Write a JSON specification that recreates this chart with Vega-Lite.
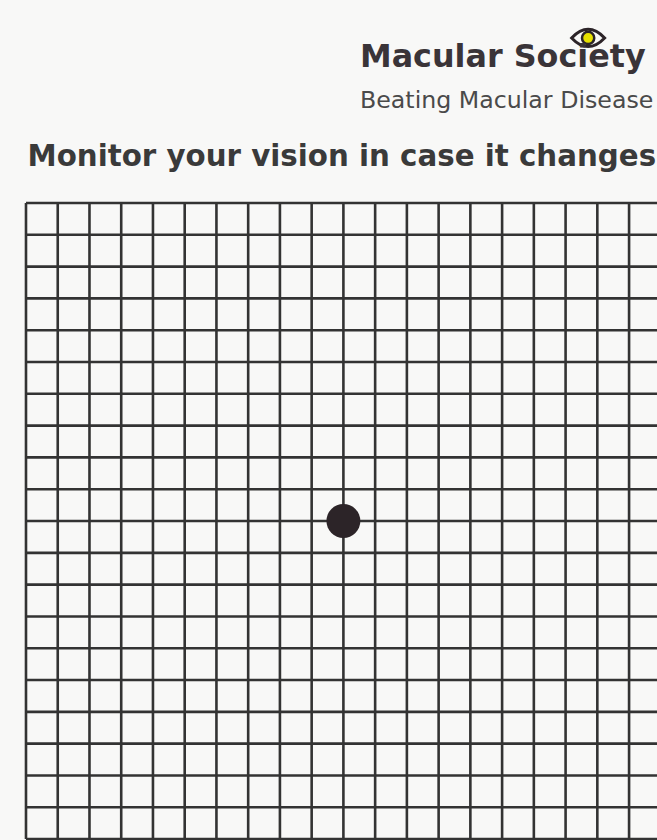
{
  "$schema": "https://vega.github.io/schema/vega-lite/v6.json",
  "width": 657,
  "height": 650,
  "autosize": {"type": "none"},
  "padding": {"top": 190, "left": 0, "right": 0, "bottom": 0},
  "background": "#f8f8f7",
  "title": {
    "text": "Macular Society",
    "subtitle": "Beating Macular Disease",
    "anchor": "start",
    "frame": "group",
    "orient": "top",
    "dx": 360,
    "offset": -89,
    "font": "DejaVu Sans",
    "fontSize": 31.8,
    "fontWeight": "bold",
    "color": "#3a3438",
    "subtitleFont": "DejaVu Sans",
    "subtitleFontSize": 23.7,
    "subtitleFontWeight": 400,
    "subtitleColor": "#4a4a4a",
    "subtitlePadding": 15
  },
  "config": {"view": {"stroke": null}},
  "datasets": {
    "grid": [
      {"k": 0}, {"k": 1}, {"k": 2}, {"k": 3}, {"k": 4}, {"k": 5}, {"k": 6},
      {"k": 7}, {"k": 8}, {"k": 9}, {"k": 10}, {"k": 11}, {"k": 12}, {"k": 13},
      {"k": 14}, {"k": 15}, {"k": 16}, {"k": 17}, {"k": 18}, {"k": 19}, {"k": 20}
    ],
    "dot": [{"col": 10, "row": 10}]
  },
  "layer": [
    {
      "data": {"name": "grid"},
      "mark": {"type": "rule", "clip": true, "color": "#333333", "strokeWidth": 2.6},
      "encoding": {
        "x": {
          "field": "k", "type": "quantitative",
          "scale": {"domain": [-0.819, 19.88], "nice": false, "zero": false},
          "axis": {
            "orient": "top", "labels": false, "ticks": false, "domain": false, "grid": false,
            "title": "Monitor your vision in case it changes",
            "titleX": 27, "titleY": -25, "titleAlign": "left", "titleBaseline": "alphabetic",
            "titleFont": "DejaVu Sans", "titleFontSize": 29.3, "titleFontWeight": "bold", "titleColor": "#3a3a3a"
          }
        },
        "y": {"datum": 0, "type": "quantitative",
          "scale": {"domain": [-0.409, 20.03], "nice": false, "zero": false, "reverse": true},
          "axis": null},
        "y2": {"datum": 20}
      }
    },
    {
      "data": {"name": "grid"},
      "mark": {"type": "rule", "clip": true, "color": "#333333", "strokeWidth": 2.6},
      "encoding": {
        "y": {"field": "k", "type": "quantitative"},
        "x": {"datum": 0, "type": "quantitative"},
        "x2": {"datum": 21}
      }
    },
    {
      "data": {"name": "dot"},
      "mark": {"type": "point", "shape": "circle", "filled": true, "color": "#2c2428", "opacity": 1, "size": 1150},
      "encoding": {
        "x": {"field": "col", "type": "quantitative"},
        "y": {"field": "row", "type": "quantitative"}
      }
    },
    {
      "data": {"name": "dot"},
      "mark": {"type": "point", "shape": "M -1 0 Q 0 -1.05 1 0 Q 0 1.05 -1 0 Z", "filled": false, "stroke": "#2c2428", "strokeWidth": 3, "opacity": 1, "size": 1089},
      "encoding": {
        "x": {"datum": 17.71, "type": "quantitative"},
        "y": {"datum": -5.19, "type": "quantitative"}
      }
    },
    {
      "data": {"name": "dot"},
      "mark": {"type": "point", "shape": "circle", "filled": true, "fill": "#e6e000", "stroke": "#2c2428", "strokeWidth": 2.5, "opacity": 1, "size": 150},
      "encoding": {
        "x": {"datum": 17.71, "type": "quantitative"},
        "y": {"datum": -5.19, "type": "quantitative"}
      }
    }
  ]
}
